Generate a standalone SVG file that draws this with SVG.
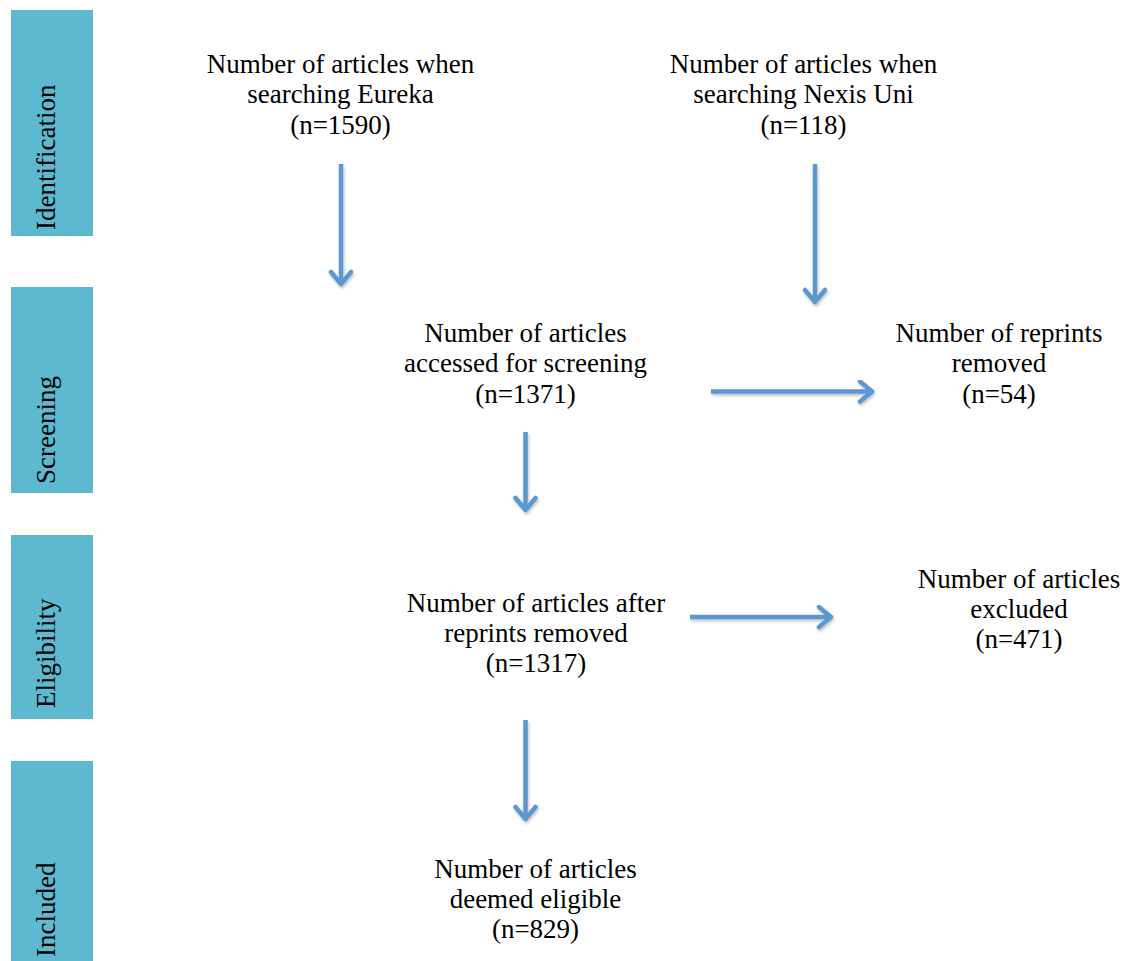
<svg xmlns="http://www.w3.org/2000/svg" width="1125" height="961" viewBox="0 0 1125 961">
<style>
.bar{fill:#5cb9d0}
.lbl{font-family:"Liberation Serif","Times New Roman",serif;font-size:27px;fill:#000}
.t{font-family:"Liberation Serif","Times New Roman",serif;font-size:27px;fill:#000;text-anchor:middle}
.conn{stroke:#5b97d0;stroke-width:4.5;fill:none;marker-end:url(#ah)}
</style>
<defs>
<marker id="ah" markerUnits="userSpaceOnUse" markerWidth="30" markerHeight="30" refX="16" refY="12" orient="auto">
<path d="M4,2 L16,12 L4,22" fill="none" stroke="#5b97d0" stroke-width="4.5" stroke-linecap="round" stroke-linejoin="round"/>
</marker>
<filter id="sh" x="-20%" y="-20%" width="140%" height="140%">
<feDropShadow dx="1" dy="2" stdDeviation="1.5" flood-color="#000" flood-opacity="0.25"/>
</filter>
</defs>
<rect width="1125" height="961" fill="#fff"/>
<g id="stage-identification"><rect class="bar" x="11" y="10" width="82" height="226"/><text class="lbl" transform="translate(55,230) rotate(-90)">Identification</text></g>
<g id="stage-screening"><rect class="bar" x="11" y="287" width="82" height="206"/><text class="lbl" transform="translate(55,484) rotate(-90)">Screening</text></g>
<g id="stage-eligibility"><rect class="bar" x="11" y="535" width="82" height="184"/><text class="lbl" transform="translate(55,708) rotate(-90)">Eligibility</text></g>
<g id="stage-included"><rect class="bar" x="11" y="761" width="82" height="210"/><text class="lbl" transform="translate(55,957) rotate(-90)">Included</text></g>
<g id="eureka"><text class="t" x="340.5" y="73">Number of articles when</text><text class="t" x="340.5" y="103">searching Eureka</text><text class="t" x="340.5" y="134">(n=1590)</text></g>
<g id="nexis"><text class="t" x="803.5" y="73">Number of articles when</text><text class="t" x="803.5" y="103">searching Nexis Uni</text><text class="t" x="803.5" y="134">(n=118)</text></g>
<g id="screened"><text class="t" x="525.5" y="342">Number of articles</text><text class="t" x="525.5" y="372">accessed for screening</text><text class="t" x="525.5" y="403">(n=1371)</text></g>
<g id="reprints"><text class="t" x="999" y="342">Number of reprints</text><text class="t" x="999" y="372">removed</text><text class="t" x="999" y="403">(n=54)</text></g>
<g id="after-reprints"><text class="t" x="536" y="612">Number of articles after</text><text class="t" x="536" y="642">reprints removed</text><text class="t" x="536" y="672">(n=1317)</text></g>
<g id="excluded"><text class="t" x="1019" y="588">Number of articles</text><text class="t" x="1019" y="618">excluded</text><text class="t" x="1019" y="648">(n=471)</text></g>
<g id="eligible"><text class="t" x="535.5" y="878">Number of articles</text><text class="t" x="535.5" y="908">deemed eligible</text><text class="t" x="535.5" y="938">(n=829)</text></g>
<g id="connectors" filter="url(#sh)">
<line class="conn" x1="341" y1="164" x2="341" y2="284"/>
<line class="conn" x1="815" y1="164" x2="815" y2="302"/>
<line class="conn" x1="711" y1="391.5" x2="872" y2="391.5"/>
<line class="conn" x1="525.5" y1="432" x2="525.5" y2="510"/>
<line class="conn" x1="690" y1="617" x2="831" y2="617"/>
<line class="conn" x1="525.5" y1="720" x2="525.5" y2="819"/>
</g>
</svg>
